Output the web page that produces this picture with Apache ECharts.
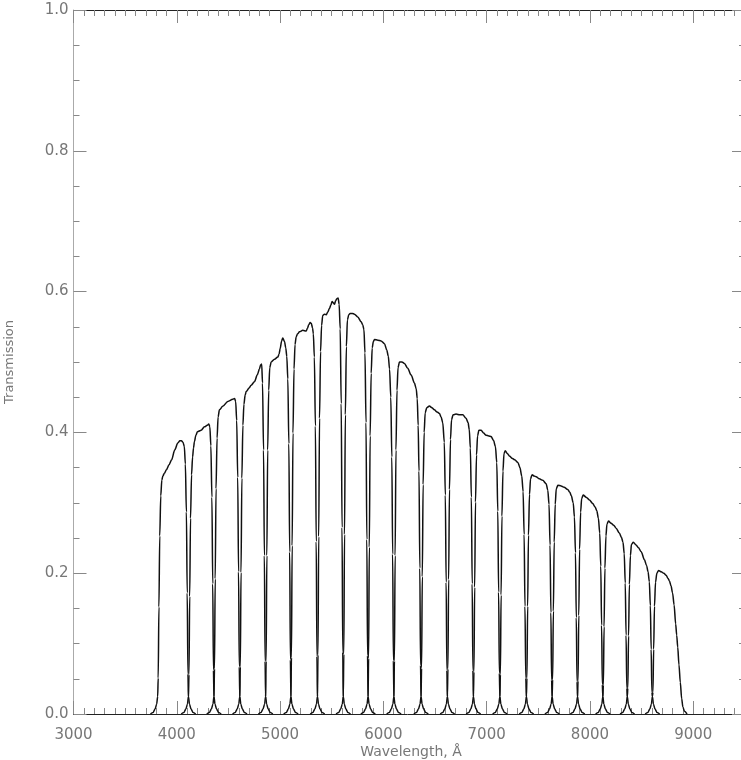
<!DOCTYPE html>
<html>
<head>
<meta charset="utf-8">
<script src="https://cdn.jsdelivr.net/npm/echarts@6/dist/echarts.min.js"></script>
<style>html,body{margin:0;padding:0;background:#fff}#c{width:741px;height:760px}</style>
</head>
<body>
<div id="c"></div>
<script>
// Axis set-up values
const xRange = [3000, 10000];
const yRange = [0, 1];
const xTitle = 'Wavelength, Å';
const yTitle = 'Transmission';

// Filter transmission curves: [wavelength (Å), transmission]
const filter01 = [[3745,0],[3770,0.002],[3790,0.007],[3805,0.014],[3815,0.025],[3820,0.051],[3827,0.152],[3835,0.253],[3845,0.31],[3855,0.332],[3865,0.338],[3880,0.342],[3900,0.347],[3925,0.354],[3950,0.361],[3980,0.375],[4010,0.385],[4030,0.388],[4045,0.388],[4060,0.386],[4073,0.38],[4083,0.355],[4093,0.287],[4101,0.172],[4108,0.057],[4113,0.025],[4123,0.014],[4138,0.007],[4158,0.002],[4183,0]];
const filter02 = [[4043,0],[4068,0.002],[4088,0.007],[4103,0.014],[4113,0.025],[4118,0.056],[4125,0.167],[4133,0.278],[4143,0.34],[4153,0.365],[4162,0.378],[4171,0.387],[4185,0.396],[4200,0.401],[4236,0.403],[4268,0.408],[4295,0.41],[4310,0.412],[4320,0.408],[4330,0.381],[4340,0.308],[4348,0.185],[4355,0.062],[4360,0.025],[4370,0.014],[4385,0.007],[4405,0.002],[4430,0]];
const filter03 = [[4290,0],[4315,0.002],[4335,0.007],[4350,0.014],[4360,0.025],[4365,0.064],[4372,0.192],[4380,0.32],[4390,0.392],[4400,0.422],[4413,0.432],[4445,0.437],[4494,0.444],[4542,0.447],[4560,0.448],[4570,0.444],[4580,0.417],[4590,0.336],[4598,0.202],[4605,0.067],[4610,0.025],[4620,0.014],[4635,0.007],[4655,0.002],[4680,0]];
const filter04 = [[4540,0],[4565,0.002],[4585,0.007],[4600,0.014],[4610,0.025],[4615,0.067],[4622,0.201],[4630,0.335],[4640,0.41],[4650,0.44],[4662,0.453],[4672,0.458],[4700,0.463],[4720,0.467],[4752,0.472],[4780,0.482],[4800,0.49],[4812,0.496],[4822,0.497],[4830,0.47],[4840,0.375],[4848,0.225],[4855,0.075],[4860,0.025],[4870,0.014],[4885,0.007],[4905,0.002],[4930,0]];
const filter05 = [[4790,0],[4815,0.002],[4835,0.007],[4850,0.014],[4860,0.025],[4865,0.075],[4872,0.225],[4880,0.375],[4890,0.46],[4900,0.492],[4914,0.5],[4946,0.504],[4978,0.507],[4990,0.511],[5001,0.519],[5015,0.53],[5026,0.534],[5043,0.529],[5055,0.52],[5065,0.508],[5075,0.476],[5085,0.384],[5093,0.23],[5100,0.077],[5105,0.025],[5115,0.014],[5130,0.007],[5150,0.002],[5175,0]];
const filter06 = [[5035,0],[5060,0.002],[5080,0.007],[5095,0.014],[5105,0.025],[5110,0.08],[5117,0.239],[5125,0.399],[5135,0.49],[5145,0.525],[5156,0.536],[5170,0.54],[5188,0.543],[5220,0.545],[5253,0.544],[5265,0.548],[5278,0.553],[5292,0.556],[5302,0.555],[5315,0.548],[5322,0.54],[5332,0.507],[5342,0.409],[5350,0.245],[5357,0.082],[5362,0.025],[5372,0.014],[5387,0.007],[5407,0.002],[5432,0]];
const filter07 = [[5292,0],[5317,0.002],[5337,0.007],[5352,0.014],[5362,0.025],[5367,0.084],[5374,0.252],[5382,0.42],[5392,0.515],[5402,0.552],[5413,0.566],[5430,0.568],[5446,0.567],[5462,0.571],[5478,0.576],[5492,0.581],[5504,0.586],[5515,0.584],[5527,0.582],[5538,0.587],[5549,0.59],[5562,0.591],[5572,0.582],[5582,0.547],[5592,0.441],[5600,0.265],[5607,0.088],[5612,0.025],[5622,0.014],[5637,0.007],[5657,0.002],[5682,0]];
const filter08 = [[5542,0],[5567,0.002],[5587,0.007],[5602,0.014],[5612,0.025],[5617,0.085],[5624,0.255],[5632,0.425],[5642,0.522],[5652,0.56],[5665,0.567],[5678,0.569],[5700,0.569],[5720,0.568],[5752,0.564],[5785,0.557],[5800,0.553],[5812,0.546],[5822,0.513],[5832,0.414],[5840,0.248],[5847,0.083],[5852,0.025],[5862,0.014],[5877,0.007],[5897,0.002],[5922,0]];
const filter09 = [[5782,0],[5807,0.002],[5827,0.007],[5842,0.014],[5852,0.025],[5857,0.079],[5864,0.237],[5872,0.395],[5882,0.484],[5892,0.52],[5903,0.529],[5914,0.532],[5946,0.531],[5978,0.53],[6011,0.526],[6033,0.517],[6048,0.508],[6060,0.49],[6072,0.45],[6082,0.365],[6090,0.227],[6097,0.076],[6102,0.025],[6112,0.014],[6127,0.007],[6147,0.002],[6172,0]];
const filter10 = [[6032,0],[6057,0.002],[6077,0.007],[6092,0.014],[6102,0.025],[6107,0.075],[6114,0.225],[6122,0.375],[6132,0.46],[6142,0.492],[6156,0.5],[6180,0.5],[6204,0.498],[6236,0.491],[6269,0.4815],[6301,0.47],[6318,0.462],[6328,0.448],[6337,0.41],[6345,0.345],[6353,0.207],[6360,0.069],[6365,0.025],[6375,0.014],[6390,0.007],[6410,0.002],[6435,0]];
const filter11 = [[6295,0],[6320,0.002],[6340,0.007],[6355,0.014],[6365,0.025],[6370,0.065],[6377,0.195],[6385,0.326],[6395,0.4],[6405,0.428],[6420,0.435],[6446,0.4375],[6470,0.435],[6494,0.432],[6520,0.429],[6543,0.427],[6559,0.422],[6575,0.414],[6590,0.386],[6600,0.311],[6608,0.187],[6615,0.062],[6620,0.025],[6630,0.014],[6645,0.007],[6665,0.002],[6690,0]];
const filter12 = [[6550,0],[6575,0.002],[6595,0.007],[6610,0.014],[6620,0.025],[6625,0.064],[6632,0.191],[6640,0.319],[6650,0.39],[6660,0.418],[6675,0.425],[6704,0.426],[6740,0.425],[6769,0.425],[6801,0.42],[6820,0.414],[6832,0.404],[6842,0.378],[6852,0.308],[6860,0.185],[6867,0.062],[6872,0.025],[6882,0.014],[6897,0.007],[6917,0.002],[6942,0]];
const filter13 = [[6802,0],[6827,0.002],[6847,0.007],[6862,0.014],[6872,0.025],[6877,0.06],[6884,0.18],[6892,0.301],[6902,0.368],[6912,0.395],[6925,0.403],[6947,0.403],[6970,0.399],[6995,0.396],[7020,0.395],[7043,0.394],[7066,0.389],[7085,0.38],[7098,0.357],[7108,0.288],[7116,0.173],[7123,0.058],[7128,0.025],[7138,0.014],[7153,0.007],[7173,0.002],[7198,0]];
const filter14 = [[7058,0],[7083,0.002],[7103,0.007],[7118,0.014],[7128,0.025],[7133,0.056],[7140,0.169],[7148,0.281],[7158,0.345],[7168,0.37],[7180,0.374],[7200,0.37],[7223,0.366],[7250,0.363],[7272,0.361],[7304,0.357],[7322,0.35],[7340,0.338],[7353,0.316],[7363,0.255],[7371,0.153],[7379,0.051],[7385,0.025],[7395,0.014],[7410,0.007],[7430,0.002],[7455,0]];
const filter15 = [[7315,0],[7340,0.002],[7360,0.007],[7375,0.014],[7385,0.025],[7390,0.051],[7397,0.153],[7405,0.254],[7415,0.312],[7425,0.334],[7440,0.34],[7460,0.338],[7479,0.337],[7510,0.334],[7543,0.332],[7576,0.327],[7592,0.318],[7604,0.298],[7614,0.24],[7622,0.144],[7629,0.048],[7634,0.025],[7644,0.014],[7659,0.007],[7679,0.002],[7704,0]];
const filter16 = [[7564,0],[7589,0.002],[7609,0.007],[7624,0.014],[7634,0.025],[7639,0.049],[7646,0.146],[7654,0.244],[7664,0.298],[7674,0.32],[7690,0.325],[7721,0.324],[7750,0.322],[7785,0.319],[7805,0.315],[7820,0.31],[7838,0.3],[7850,0.28],[7860,0.229],[7868,0.137],[7875,0.046],[7880,0.025],[7890,0.014],[7905,0.007],[7925,0.002],[7950,0]];
const filter17 = [[7810,0],[7835,0.002],[7855,0.007],[7870,0.014],[7880,0.025],[7885,0.047],[7892,0.14],[7900,0.234],[7910,0.287],[7920,0.306],[7935,0.311],[7963,0.308],[7995,0.304],[8027,0.299],[8050,0.294],[8066,0.289],[8082,0.278],[8095,0.257],[8105,0.21],[8113,0.126],[8120,0.042],[8125,0.025],[8135,0.014],[8150,0.007],[8170,0.002],[8195,0]];
const filter18 = [[8055,0],[8080,0.002],[8100,0.007],[8115,0.014],[8125,0.025],[8130,0.041],[8137,0.124],[8145,0.207],[8155,0.253],[8165,0.27],[8180,0.274],[8205,0.271],[8230,0.268],[8253,0.264],[8285,0.257],[8305,0.251],[8320,0.244],[8332,0.228],[8342,0.186],[8350,0.112],[8357,0.037],[8362,0.025],[8372,0.014],[8387,0.007],[8407,0.002],[8432,0]];
const filter19 = [[8292,0],[8317,0.002],[8337,0.007],[8352,0.014],[8362,0.025],[8367,0.037],[8374,0.111],[8382,0.184],[8392,0.225],[8402,0.241],[8420,0.244],[8447,0.24],[8470,0.236],[8496,0.2306],[8528,0.219],[8548,0.211],[8563,0.202],[8575,0.188],[8585,0.154],[8593,0.092],[8600,0.031],[8605,0.025],[8615,0.014],[8630,0.007],[8650,0.002],[8675,0]];
const filter20 = [[8535,0],[8560,0.002],[8580,0.007],[8595,0.014],[8605,0.025],[8610,0.031],[8617,0.092],[8625,0.153],[8635,0.187],[8648,0.2],[8665,0.204],[8690,0.202],[8715,0.2],[8738,0.197],[8755,0.193],[8770,0.189],[8785,0.182],[8800,0.172],[8815,0.155],[8830,0.128],[8840,0.112],[8850,0.095],[8862,0.07],[8875,0.045],[8888,0.022],[8900,0.01],[8915,0.004],[8940,0]];

const filters = [filter01,filter02,filter03,filter04,filter05,filter06,filter07,filter08,filter09,filter10,
                 filter11,filter12,filter13,filter14,filter15,filter16,filter17,filter18,filter19,filter20];

const FONT = 'DejaVu Sans';
const LABEL = '#777';
const TICK = '#888';

const chart = echarts.init(document.getElementById('c'), null, {renderer: 'canvas'});

const xCommon = {
  type: 'value', min: xRange[0], max: xRange[1], interval: 1000, gridIndex: 0,
  splitLine: {show: false},
  axisTick: {show: true, inside: true, length: 13, lineStyle: {color: TICK, width: 1}},
  minorTick: {show: true, splitNumber: 10, length: 6, lineStyle: {color: TICK, width: 1}},
  minorSplitLine: {show: false}
};
const yCommon = {
  type: 'value', min: yRange[0], max: yRange[1], interval: 0.2, gridIndex: 0,
  splitLine: {show: false},
  axisTick: {show: true, inside: true, length: 13, lineStyle: {color: TICK, width: 1}},
  minorTick: {show: true, splitNumber: 4, length: 6, lineStyle: {color: TICK, width: 1}},
  minorSplitLine: {show: false}
};

chart.setOption({
  animation: false,
  backgroundColor: '#fff',
  grid: {left: 73.5, top: 10, width: 723, height: 704, containLabel: false, outerBoundsMode: 'none'},
  xAxis: [
    Object.assign({}, xCommon, {
      position: 'bottom',
      axisLine: {show: true, onZero: false, lineStyle: {color: '#222', width: 1}},
      axisLabel: {show: true, color: LABEL, fontFamily: FONT, fontSize: 15, margin: 14, showMaxLabel: false,
                  formatter: v => String(v)},
      name: xTitle, nameLocation: 'middle', nameGap: 31, nameMoveOverlap: false,
      nameTextStyle: {color: LABEL, fontFamily: FONT, fontSize: 14, padding: [0, 48, 0, 0]}
    }),
    Object.assign({}, xCommon, {
      position: 'top',
      axisLine: {show: true, onZero: false, lineStyle: {color: '#222', width: 1}},
      axisLabel: {show: false}
    })
  ],
  yAxis: [
    Object.assign({}, yCommon, {
      position: 'left',
      axisLine: {show: true, onZero: false, lineStyle: {color: '#aaa', width: 1}},
      axisLabel: {show: true, color: LABEL, fontFamily: FONT, fontSize: 15, margin: 5,
                  formatter: v => v.toFixed(1)},
      name: yTitle, nameLocation: 'middle', nameGap: 57, nameRotate: 90, nameMoveOverlap: false,
      nameTextStyle: {color: LABEL, fontFamily: FONT, fontSize: 13}
    }),
    Object.assign({}, yCommon, {
      position: 'right', offset: -51.5,
      axisLine: {show: true, onZero: false, lineStyle: {color: '#aaa', width: 1}},
      axisLabel: {show: false}
    })
  ],
  series: filters.map((d, i) => ({
    type: 'line', name: 'F' + (i + 1), xAxisIndex: 0, yAxisIndex: 0,
    data: d, showSymbol: false, symbol: 'none', smooth: 0.3, smoothMonotone: 'x',
    clip: true,
    lineStyle: {color: '#111', width: 1.5}
  }))
});
</script>
</body>
</html>
